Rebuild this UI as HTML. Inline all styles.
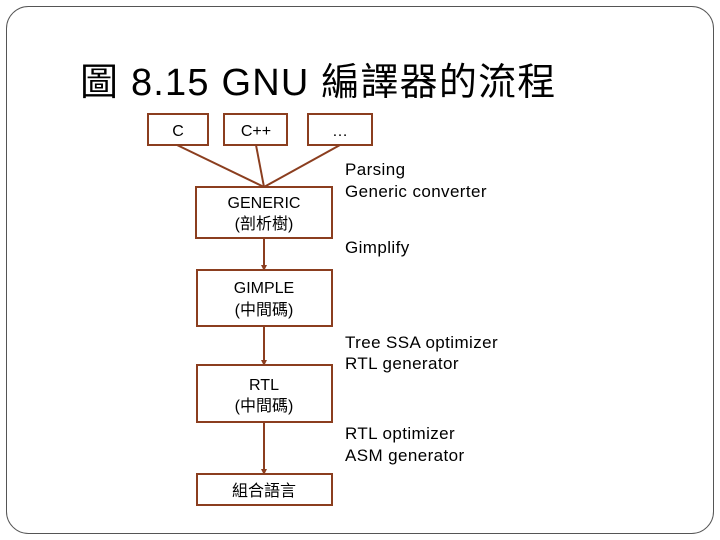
<!DOCTYPE html>
<html><head><meta charset="utf-8"><style>
html,body{margin:0;padding:0;background:#fff;}
svg{display:block;}
text{font-family:"Liberation Sans","Noto Sans CJK TC",sans-serif;fill:#000;}
</style></head><body>
<svg width="720" height="540" viewBox="0 0 720 540">
<rect x="6.5" y="6.5" width="707" height="527" rx="22" fill="#fff" stroke="#555" stroke-width="1"/>
<text x="80" y="95" font-size="38" letter-spacing="1.2" fill="#222">圖 8.15 GNU 編譯器的流程</text>
<g stroke="#8b3e1f" stroke-width="2" fill="none">
<line x1="177" y1="145" x2="264" y2="187"/>
<line x1="256" y1="145" x2="264" y2="187"/>
<line x1="340" y1="145" x2="264" y2="187"/>
<line x1="264" y1="238" x2="264" y2="270"/>
<line x1="264" y1="326" x2="264" y2="365"/>
<line x1="264" y1="422" x2="264" y2="474"/>
<rect x="148" y="114" width="60" height="31"/>
<rect x="224" y="114" width="63" height="31"/>
<rect x="308" y="114" width="64" height="31"/>
<rect x="196" y="187" width="136" height="51"/>
<rect x="197" y="270" width="135" height="56"/>
<rect x="197" y="365" width="135" height="57"/>
<rect x="197" y="474" width="135" height="31"/>
</g>
<g fill="#8b3e1f">
<polygon points="261,265 267,265 264,271"/>
<polygon points="261,360 267,360 264,366"/>
<polygon points="261,469 267,469 264,475"/>
</g>
<g font-size="16" text-anchor="middle">
<text x="178" y="136">C</text>
<text x="256" y="136">C++</text>
<text x="340" y="136">…</text>
<text x="264" y="208">GENERIC</text>
<text x="264" y="229">(剖析樹)</text>
<text x="264" y="293">GIMPLE</text>
<text x="264" y="315">(中間碼)</text>
<text x="264" y="390">RTL</text>
<text x="264" y="411">(中間碼)</text>
<text x="264" y="496">組合語言</text>
</g>
<g font-size="17" letter-spacing="0.4">
<text x="345" y="175">Parsing</text>
<text x="345" y="197">Generic converter</text>
<text x="345" y="253">Gimplify</text>
<text x="345" y="348">Tree SSA optimizer</text>
<text x="345" y="369">RTL generator</text>
<text x="345" y="439">RTL  optimizer</text>
<text x="345" y="461">ASM generator</text>
</g>
</svg>
</body></html>
